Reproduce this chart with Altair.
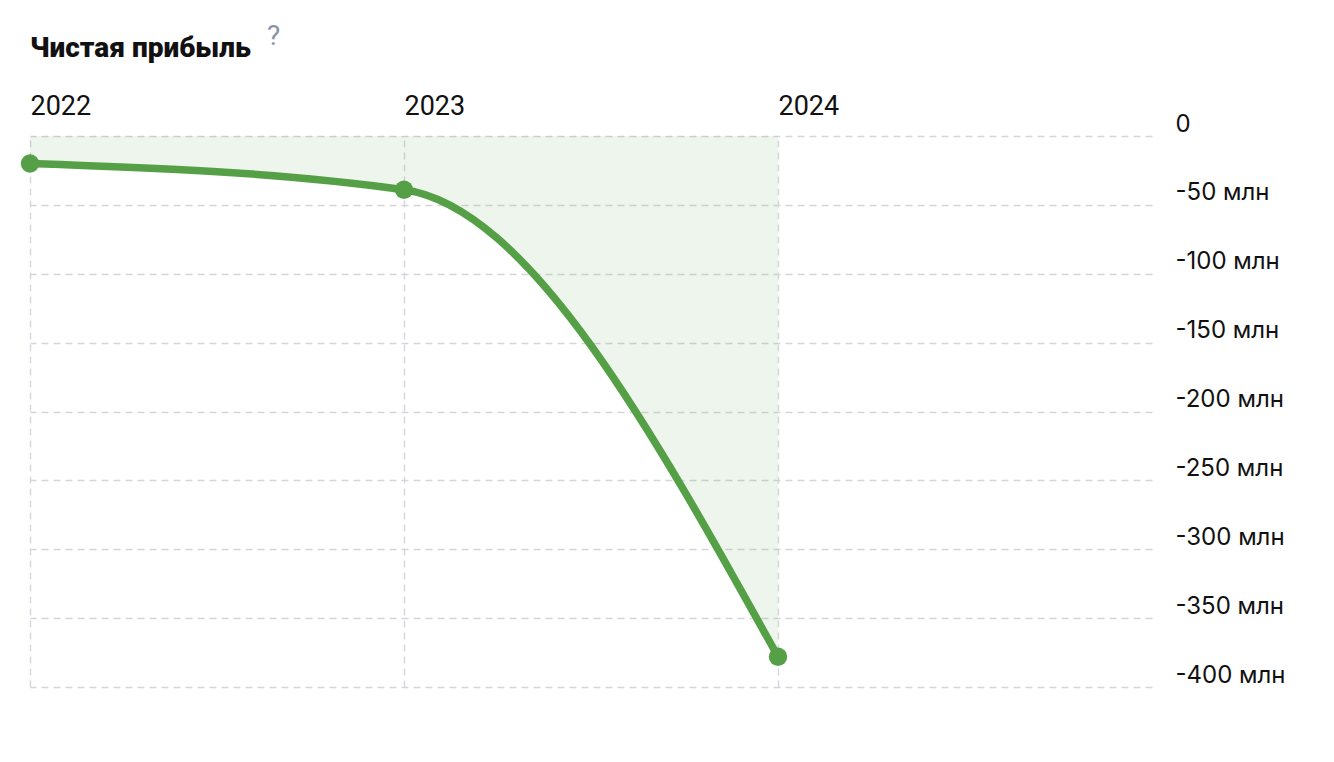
import altair as alt
import pandas as pd

years = [2022, 2023, 2024]
profit_mln = [-20, -39, -378]
y_ticks = [0, -50, -100, -150, -200, -250, -300, -350, -400]
x_ticks = [2022, 2023, 2024]
title_text = "Чистая прибыль"
hint_text = "?"

df = pd.DataFrame({"year": years, "value": profit_mln})

GREEN = "#55a047"
GRID = "#d3d6dc"

x = alt.X(
    "year:Q",
    scale=alt.Scale(domain=[2022, 2025], nice=False, zero=False),
    axis=alt.Axis(
        orient="top",
        values=x_ticks,
        format="d",
        title=None,
        domain=False,
        ticks=False,
        labelAlign="left",
        labelFont="Roboto",
        labelFontSize=27,
        labelColor="#111111",
        labelPadding=16,
        grid=True,
        gridColor=GRID,
        gridDash=[7, 5],
        gridWidth=1.4,
    ),
)
y = alt.Y(
    "value:Q",
    scale=alt.Scale(domain=[-400, 0], nice=False),
    axis=alt.Axis(
        orient="right",
        values=y_ticks,
        title=None,
        domain=False,
        ticks=False,
        labelExpr="datum.value == 0 ? '0' : toString(datum.value) + ' млн'",
        labelAlign="left",
        labelBaseline="alphabetic",
        labelOffset=-5,
        labelFont="Inter",
        labelFontSize=24,
        labelColor="#111111",
        labelPadding=23,
        grid=True,
        gridColor=GRID,
        gridDash=[7, 5],
        gridWidth=1.4,
    ),
)

base = alt.Chart(df)
area = base.mark_area(interpolate="monotone", color=GREEN, opacity=0.1).encode(
    x=x, y=y, y2=alt.datum(0)
)
line = base.mark_line(interpolate="monotone", color=GREEN, strokeWidth=7.5).encode(x="year:Q", y="value:Q")
points = base.mark_circle(color=GREEN, opacity=1, size=340).encode(x="year:Q", y="value:Q")

title = alt.Chart(pd.DataFrame({"t": [title_text]})).mark_text(
    align="left", baseline="alphabetic", font="Roboto", fontSize=28, fontWeight=900, color="#111111"
).encode(text="t:N", x=alt.value(0), y=alt.value(-79))

qmark = alt.Chart(pd.DataFrame({"t": [hint_text]})).mark_text(
    align="left", baseline="alphabetic", font="Roboto", fontSize=28, color="#8a94a8"
).encode(text="t:N", x=alt.value(237), y=alt.value(-91))

chart = (
    alt.layer(area, line, points, title, qmark)
    .properties(
        width=1122,
        height=551,
        autosize=alt.AutoSizeParams(type="none"),
        padding={"left": 22, "top": 128, "right": 170, "bottom": 50},
    )
    .configure_view(stroke=None)
)

chart.save("out.html", embed_options={"renderer": "svg", "actions": False})
